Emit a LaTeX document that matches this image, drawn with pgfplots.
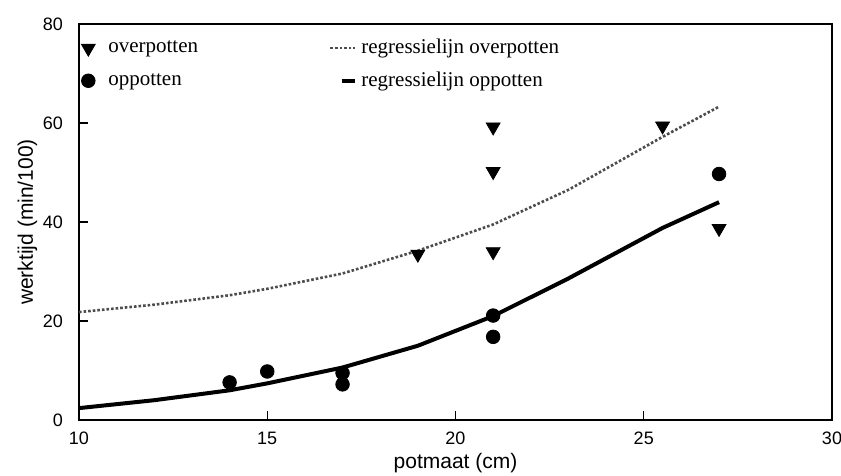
\documentclass[border=0pt]{standalone}
\usepackage{fontspec}
\setmainfont{Liberation Sans}
\newfontfamily\legendfont{Liberation Serif}
\usepackage{pgfplots}
\pgfplotsset{compat=1.18}
\pgfplotsset{
  markleg/.style={legend image code/.code={\path[draw=none] (0cm,0cm) -- (0.40cm,0cm); \draw[##1] plot coordinates {(0.12cm,0cm)};}},
  lineleg/.style={legend image code/.code={\path[draw=none] (0cm,0cm) -- (0.44cm,0cm); \draw[##1] (#1,0cm) -- (0.44cm,0cm);}},
}

\begin{document}
\begin{tikzpicture}
\begin{axis}[
  scale only axis, width=376.5pt, height=198pt,
  xmin=10, xmax=30, ymin=0, ymax=80,
  xtick={10,15,...,30}, ytick={0,20,...,80},
  tick align=inside, tick pos=left,
  axis line style={line width=0.6pt},
  tick style={line width=0.6pt, black},
  major tick length=4.5pt,
  /pgf/number format/assume math mode=true,
  tick label style={font=\fontsize{9}{10}\selectfont},
  xticklabel style={yshift=-2.5pt},
  yticklabel style={xshift=-4.5pt},
  xlabel={potmaat (cm)}, ylabel={werktijd (min/100)},
  label style={font=\fontsize{10.5}{12}\selectfont},
  xlabel style={yshift=2.5pt},
  ylabel style={yshift=-4pt},
  legend columns=2,
  legend cell align=left,
  legend style={at={(0,1)}, anchor=north west, yshift=-4.5pt, draw=none, fill=none,
    font=\legendfont\fontsize{10.5}{12}\selectfont, inner sep=1pt,
    /tikz/every even column/.append style={column sep=63.5pt},
    row sep=3.5pt},
]
% overpotten
\addplot[only marks, mark=triangle*, mark size=4pt, mark options={rotate=180, fill=black}, black, markleg]
  coordinates {(19,33.5) (21,59.2) (21,50.2) (21,34.0) (25.5,59.4) (27,38.7)};
\addlegendentry{overpotten}
% regressielijn overpotten
\addplot[densely dotted, line width=1.3pt, black!70, lineleg=0cm]
  coordinates {(10,21.8) (12,23.3) (14,25.2) (15,26.5) (17,29.6) (19,34.2) (21,39.5) (23,46.5) (25.5,57.2) (27,63.3)};
\addlegendentry{regressielijn overpotten}
% oppotten
\addplot[only marks, mark=*, mark size=3.4pt, black, markleg]
  coordinates {(14,7.6) (15,9.8) (17,9.5) (17,7.2) (21,21.1) (21,16.8) (27,49.7)};
\addlegendentry{oppotten}
% regressielijn oppotten
\addplot[line width=2pt, black, lineleg=0.2cm]
  coordinates {(10,2.4) (12,4.0) (14,6.0) (15,7.4) (17,10.6) (19,15.0) (21,21.0) (23,28.6) (25.5,38.8) (27,44.0)};
\addlegendentry{regressielijn oppotten}
\end{axis}
\path (current axis.south west) ++(-39.5pt,-28pt) coordinate (bl);
\path (current axis.north east) ++(4.5pt,12pt) coordinate (tr);
\pgfresetboundingbox
\useasboundingbox (bl) rectangle (tr);
\end{tikzpicture}
\end{document}
